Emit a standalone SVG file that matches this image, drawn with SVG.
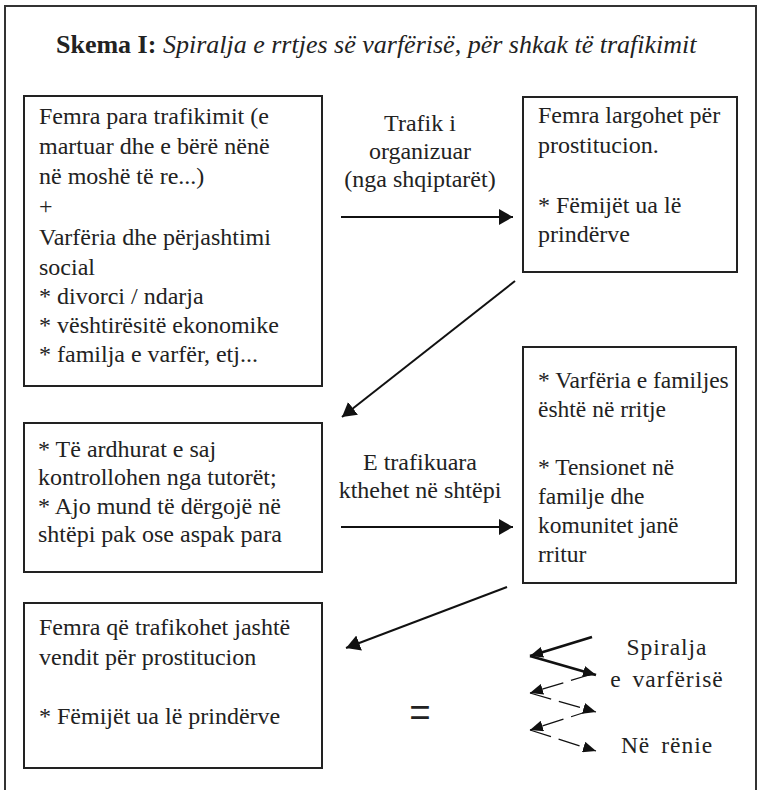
<svg xmlns="http://www.w3.org/2000/svg" width="759" height="790" viewBox="0 0 759 790">
<defs>
<style>
.frame{fill:none;stroke:#333;stroke-width:2}
.box{fill:#fff;stroke:#222;stroke-width:2}
.t{font-family:"Liberation Serif","Times New Roman",serif;font-size:24px;fill:#222}
.t2{font-family:"Liberation Serif","Times New Roman",serif;font-size:23.5px;fill:#222}
.title{font-family:"Liberation Serif","Times New Roman",serif;font-size:26px;fill:#222}
.lab{font-family:"Liberation Serif","Times New Roman",serif;font-size:24px;fill:#222;text-anchor:middle}
.eq{font-family:"Liberation Serif","Times New Roman",serif;font-size:38px;fill:#222;text-anchor:middle}
.sp{font-family:"Liberation Serif","Times New Roman",serif;font-size:23.5px;fill:#222;text-anchor:middle;letter-spacing:1px;word-spacing:4px}
.con{fill:none;stroke:#111;stroke-width:2}
.thick{fill:none;stroke:#111;stroke-width:2.8}
.dash{fill:none;stroke:#111;stroke-width:1.3;stroke-dasharray:22 8}
</style>
<marker id="ah" viewBox="0 0 14 16" refX="14" refY="8" markerWidth="14" markerHeight="16" markerUnits="userSpaceOnUse" orient="auto">
<path d="M0,0 L14,8 L0,16 z" fill="#111"/>
</marker>
<marker id="ahs" viewBox="0 0 13 11" refX="13" refY="5.5" markerWidth="13" markerHeight="11" markerUnits="userSpaceOnUse" orient="auto">
<path d="M0,0 L13,5.5 L0,11 z" fill="#111"/>
</marker>
</defs>
<rect x="0" y="0" width="759" height="790" fill="#fff"/>
<rect class="frame" x="5" y="6" width="751" height="800"/>
<g id="title">
<text class="title" x="56" y="53"><tspan font-weight="bold">Skema I:</tspan><tspan font-style="italic"> Spiralja e rrtjes së varfërisë, për shkak të trafikimit</tspan></text>
</g>
<g id="node1">
<rect class="box" x="24" y="96" width="298" height="290"/>
<text class="t" x="39" y="124">Femra para trafikimit (e</text>
<text class="t" x="39" y="154">martuar dhe e bërë nënë</text>
<text class="t" x="39" y="184">në moshë të re...)</text>
<text class="t" x="39" y="214">+</text>
<text class="t" x="39" y="245">Varfëria dhe përjashtimi</text>
<text class="t" x="39" y="275">social</text>
<text class="t" x="39" y="304">* divorci / ndarja</text>
<text class="t" x="39" y="333">* vështirësitë ekonomike</text>
<text class="t" x="39" y="362">* familja e varfër, etj...</text>
</g>
<g id="node2">
<rect class="box" x="523" y="97" width="214" height="175"/>
<text class="t" x="538" y="123">Femra largohet për</text>
<text class="t" x="538" y="153">prostitucion.</text>
<text class="t" x="538" y="213">* Fëmijët ua lë</text>
<text class="t" x="538" y="242">prindërve</text>
</g>
<g id="node3">
<rect class="box" x="24" y="423" width="298" height="149"/>
<text class="t" x="38" y="457">* Të ardhurat e saj</text>
<text class="t" x="38" y="485">kontrollohen nga tutorët;</text>
<text class="t" x="38" y="514">* Ajo mund të dërgojë në</text>
<text class="t" x="38" y="542">shtëpi pak ose aspak para</text>
</g>
<g id="node4">
<rect class="box" x="523" y="347" width="213" height="236"/>
<text class="t2" x="538" y="388">* Varfëria e familjes</text>
<text class="t2" x="538" y="417">është në rritje</text>
<text class="t2" x="538" y="475">* Tensionet në</text>
<text class="t2" x="538" y="504">familje dhe</text>
<text class="t2" x="538" y="533">komunitet janë</text>
<text class="t2" x="538" y="562">rritur</text>
</g>
<g id="node5">
<rect class="box" x="24" y="603" width="298" height="165"/>
<text class="t" x="39" y="635">Femra që trafikohet jashtë</text>
<text class="t" x="39" y="665">vendit për prostitucion</text>
<text class="t" x="39" y="724">* Fëmijët ua lë prindërve</text>
</g>
<g id="connectors">
<line class="con" x1="341" y1="217" x2="513" y2="217" marker-end="url(#ah)"/>
<line class="con" x1="515" y1="281" x2="342" y2="417" marker-end="url(#ah)"/>
<line class="con" x1="341" y1="527" x2="513" y2="527" marker-end="url(#ah)"/>
<line class="con" x1="507" y1="587" x2="346" y2="648" marker-end="url(#ah)"/>
<text class="lab" x="420" y="131">Trafik i</text>
<text class="lab" x="420" y="159">organizuar</text>
<text class="lab" x="420" y="187">(nga shqiptarët)</text>
<text class="lab" x="420" y="470">E trafikuara</text>
<text class="lab" x="420" y="498">kthehet në shtëpi</text>
</g>
<g id="equals">
<text class="eq" transform="translate(420,730) scale(1,1.4)">=</text>
</g>
<g id="spiral">
<line class="thick" x1="592" y1="637" x2="530" y2="656" marker-end="url(#ahs)"/>
<line class="thick" x1="530" y1="656" x2="596" y2="675" marker-end="url(#ahs)"/>
<line class="dash" x1="592" y1="674" x2="530" y2="693" marker-end="url(#ahs)"/>
<line class="dash" x1="530" y1="693" x2="596" y2="712" marker-end="url(#ahs)"/>
<line class="dash" x1="592" y1="710" x2="530" y2="730" marker-end="url(#ahs)"/>
<line class="dash" x1="530" y1="730" x2="596" y2="751" marker-end="url(#ahs)"/>
<text class="sp" x="667" y="655">Spiralja</text>
<text class="sp" x="667" y="687">e varfërisë</text>
<text class="sp" x="667" y="753">Në rënie</text>
</g>
</svg>
